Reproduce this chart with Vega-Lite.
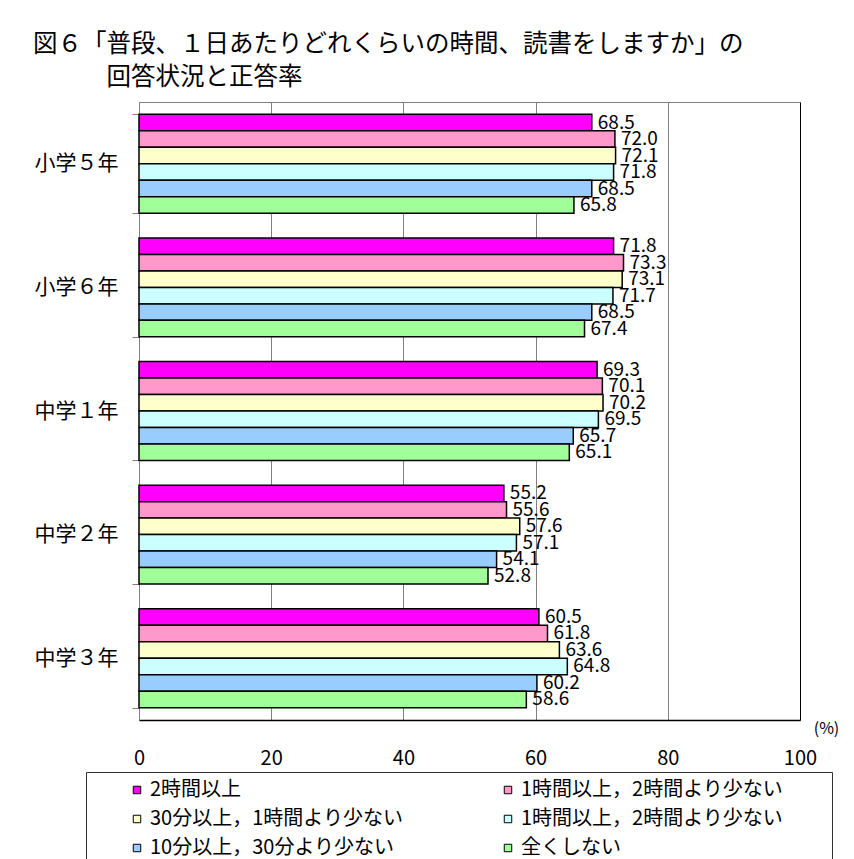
{
  "$schema": "https://vega.github.io/schema/vega-lite/v6.json",
  "autosize": {"type": "none"},
  "padding": {"left": 139, "top": 102, "right": 54, "bottom": 139},
  "width": 661,
  "height": 618,
  "background": "white",
  "title": {
    "text": ["図６「普段、１日あたりどれくらいの時間、読書をしますか」の", "\u200b\u3000\u3000\u3000回答状況と正答率"],
    "anchor": "start",
    "frame": "group",
    "dx": -106,
    "offset": 1,
    "fontSize": 24.5,
    "fontWeight": "normal",
    "lineHeight": 33,
    "color": "black",
    "font": "Noto Sans CJK JP"
  },
  "config": {
    "font": "Noto Sans CJK JP",
    "view": {"stroke": "#808080", "strokeWidth": 1}
  },
  "data": {
    "values": [
      {"grade": "小学５年", "s": "s1", "value": 68.5},
      {"grade": "小学５年", "s": "s2", "value": 72.0},
      {"grade": "小学５年", "s": "s3", "value": 72.1},
      {"grade": "小学５年", "s": "s4", "value": 71.8},
      {"grade": "小学５年", "s": "s5", "value": 68.5},
      {"grade": "小学５年", "s": "s6", "value": 65.8},
      {"grade": "小学６年", "s": "s1", "value": 71.8},
      {"grade": "小学６年", "s": "s2", "value": 73.3},
      {"grade": "小学６年", "s": "s3", "value": 73.1},
      {"grade": "小学６年", "s": "s4", "value": 71.7},
      {"grade": "小学６年", "s": "s5", "value": 68.5},
      {"grade": "小学６年", "s": "s6", "value": 67.4},
      {"grade": "中学１年", "s": "s1", "value": 69.3},
      {"grade": "中学１年", "s": "s2", "value": 70.1},
      {"grade": "中学１年", "s": "s3", "value": 70.2},
      {"grade": "中学１年", "s": "s4", "value": 69.5},
      {"grade": "中学１年", "s": "s5", "value": 65.7},
      {"grade": "中学１年", "s": "s6", "value": 65.1},
      {"grade": "中学２年", "s": "s1", "value": 55.2},
      {"grade": "中学２年", "s": "s2", "value": 55.6},
      {"grade": "中学２年", "s": "s3", "value": 57.6},
      {"grade": "中学２年", "s": "s4", "value": 57.1},
      {"grade": "中学２年", "s": "s5", "value": 54.1},
      {"grade": "中学２年", "s": "s6", "value": 52.8},
      {"grade": "中学３年", "s": "s1", "value": 60.5},
      {"grade": "中学３年", "s": "s2", "value": 61.8},
      {"grade": "中学３年", "s": "s3", "value": 63.6},
      {"grade": "中学３年", "s": "s4", "value": 64.8},
      {"grade": "中学３年", "s": "s5", "value": 60.2},
      {"grade": "中学３年", "s": "s6", "value": 58.6}
    ]
  },
  "encoding": {
    "y": {
      "field": "grade",
      "type": "nominal",
      "sort": ["小学５年", "小学６年", "中学１年", "中学２年", "中学３年"],
      "scale": {"paddingInner": 0.2, "paddingOuter": 0.1},
      "axis": {
        "title": null,
        "domainColor": "#808080",
        "domainWidth": 1,
        "tickColor": "#808080",
        "tickSize": 7,
        "tickBand": "extent",
        "labelFontSize": 21,
        "labelColor": "black",
        "labelPadding": 14,
        "grid": false
      }
    },
    "yOffset": {
      "field": "s",
      "type": "nominal",
      "sort": ["s1", "s2", "s3", "s4", "s5", "s6"],
      "scale": {"paddingInner": 0, "paddingOuter": 0}
    },
    "x": {
      "field": "value",
      "type": "quantitative",
      "scale": {"domain": [0, 100], "nice": false},
      "axis": {
        "values": [0, 20, 40, 60, 80, 100],
        "grid": true,
        "gridColor": {"condition": {"test": "datum.value === 100", "value": "black"}, "value": "#808080"},
        "gridWidth": 1,
        "domainColor": "black",
        "domainWidth": 1.5,
        "ticks": false,
        "labelPadding": 28,
        "labelFontSize": 20,
        "labelColor": "black",
        "labelFlush": false,
        "labelOverlap": false,
        "title": "(%)",
        "titleFontSize": 16,
        "titleFontWeight": "normal",
        "titleColor": "black",
        "titleX": 687,
        "titleY": 8,
        "titleAlign": "center",
        "titleBaseline": "middle"
      }
    }
  },
  "layer": [
    {
      "mark": {"type": "bar", "stroke": "black", "strokeWidth": 1.5},
      "encoding": {
        "color": {
          "field": "s",
          "type": "nominal",
          "scale": {
            "domain": ["s1", "s2", "s3", "s4", "s5", "s6"],
            "range": ["#FF00FF", "#FF99CC", "#FFFFCC", "#CCFFFF", "#99CCFF", "#A0FF98"]
          },
          "legend": {
            "orient": "none",
            "legendX": -53,
            "legendY": 670,
            "direction": "horizontal",
            "columns": 2,
            "columnPadding": 94,
            "rowPadding": 9,
            "padding": 8,
            "strokeColor": "#333333",
            "fillColor": "white",
            "title": "　",
            "titleFontSize": 10,
            "titleOrient": "left",
            "titlePadding": 33,
            "symbolType": "square",
            "symbolSize": 56,
            "symbolStrokeColor": "black",
            "symbolStrokeWidth": 1,
            "labelFontSize": 20,
            "labelColor": "black",
            "labelOffset": 3,
            "labelLimit": 400,
            "labelExpr": "datum.value === 's1' ? '2時間以上' : datum.value === 's2' ? '1時間以上，2時間より少ない\u3000\u3000\u200b' : datum.value === 's3' ? '30分以上，1時間より少ない' : datum.value === 's4' ? '1時間以上，2時間より少ない\u3000\u3000\u200b' : datum.value === 's5' ? '10分以上，30分より少ない' : '全くしない'"
          }
        }
      }
    },
    {
      "mark": {"type": "text", "align": "left", "baseline": "middle", "dx": 6, "fontSize": 19, "color": "black"},
      "encoding": {
        "text": {"field": "value", "type": "quantitative", "format": ".1f"}
      }
    }
  ]
}
